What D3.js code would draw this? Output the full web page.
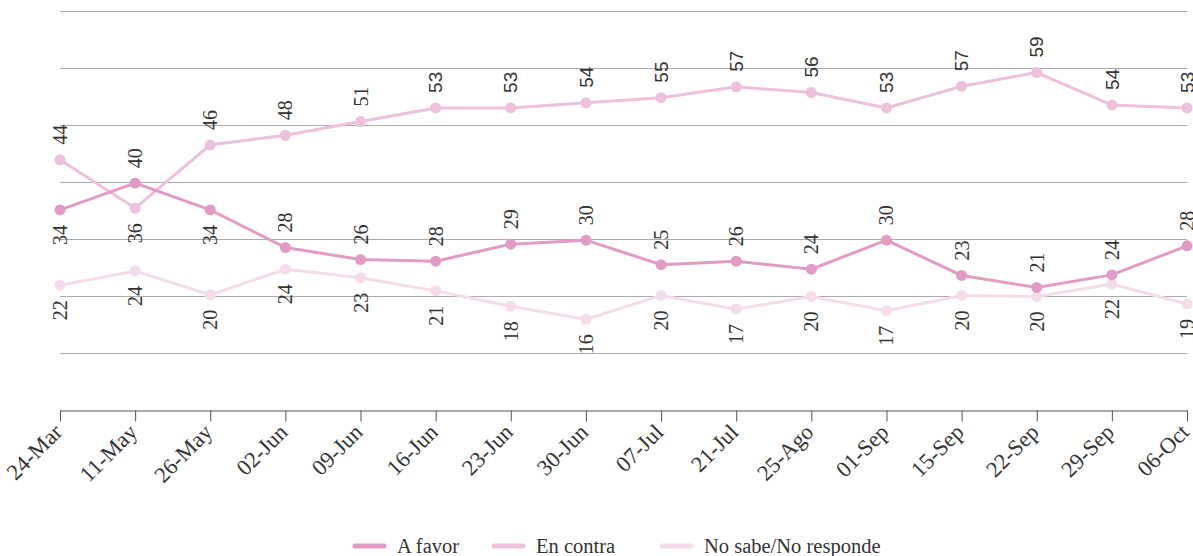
<!DOCTYPE html>
<html>
<head>
<meta charset="utf-8">
<script src="https://cdn.jsdelivr.net/npm/d3@7"></script>
<style>
  body { margin: 0; background: #fff; }
  svg { display: block; }
  text { font-family: "Liberation Serif", "DejaVu Serif", serif; fill: #333; }
</style>
</head>
<body>
<script>
// config
const config = {
  width: 1193,
  height: 556,
  left: 60,
  right: 1187,
  top: 11,
  bottom: 410,
  labelGap: 15, // distance between a point and its label
  dotRadius: 5.5,
  lineWidth: 3,
};

// data
const dates = ['24-Mar', '11-May', '26-May', '02-Jun', '09-Jun', '16-Jun', '23-Jun', '30-Jun',
  '07-Jul', '21-Jul', '25-Ago', '01-Sep', '15-Sep', '22-Sep', '29-Sep', '06-Oct'];

const aFavor = [35.1, 39.8, 35.1, 28.5, 26.4, 26.1, 29.1, 29.8, 25.5, 26.1, 24.7, 29.8, 23.6, 21.5, 23.7, 28.8];
const aFavorLabels = [34, 40, 34, 28, 26, 28, 29, 30, 25, 26, 24, 30, 23, 21, 24, 28];

const enContra = [43.9, 35.4, 46.5, 48.2, 50.6, 53.0, 53.0, 53.9, 54.8, 56.7, 55.7, 53.0, 56.8, 59.2, 53.5, 53.0];
const enContraLabels = [44, 36, 46, 48, 51, 53, 53, 54, 55, 57, 56, 53, 57, 59, 54, 53];

const noSabe = [21.9, 24.4, 20.2, 24.7, 23.2, 20.9, 18.2, 15.9, 20.1, 17.7, 19.9, 17.4, 20.1, 19.9, 22.1, 18.6];
const noSabeLabels = [22, 24, 20, 24, 23, 21, 18, 16, 20, 17, 20, 17, 20, 20, 22, 19];

const yTicks = [10, 20, 30, 40, 50, 60, 70];

// which labels sit below their point (1 = below)
const aFavorBelow = [1, 0, 1, 0, 0, 0, 0, 0, 0, 0, 0, 0, 0, 0, 0, 0];
const enContraBelow = [0, 1, 0, 0, 0, 0, 0, 0, 0, 0, 0, 0, 0, 0, 0, 0];
const noSabeBelow = dates.map(() => 1);

// series, drawn back to front
const series = [
  { name: 'No sabe/No responde', values: noSabe, labels: noSabeLabels, below: noSabeBelow, color: '#f5dcea', sansFrom: 99 },
  { name: 'En contra', values: enContra, labels: enContraLabels, below: enContraBelow, color: '#edc0dc', sansFrom: 5 },
  { name: 'A favor', values: aFavor, labels: aFavorLabels, below: aFavorBelow, color: '#e29bc5', sansFrom: 99 },
];
const legendOrder = ['A favor', 'En contra', 'No sabe/No responde'];

// setup
const svg = d3.select('body').append('svg')
  .attr('width', config.width)
  .attr('height', config.height);

const x = d3.scalePoint()
  .domain(dates)
  .range([config.left, config.right]);

const y = d3.scaleLinear()
  .domain([0, 70])
  .range([config.bottom, config.top]);

// gridlines
svg.append('g')
  .selectAll('line')
  .data(yTicks)
  .enter().append('line')
  .attr('x1', config.left)
  .attr('x2', config.right)
  .attr('y1', (d) => y(d) + 0.5)
  .attr('y2', (d) => y(d) + 0.5)
  .style('stroke', '#ababab')
  .style('stroke-width', 1);

// x axis
const xAxis = svg.append('g')
  .attr('transform', 'translate(0,' + (config.bottom + 0.5) + ')')
  .call(d3.axisBottom(x).tickSize(11).tickSizeOuter(0));

xAxis.select('.domain').style('stroke', '#555');
xAxis.selectAll('.tick line').style('stroke', '#555');
xAxis.selectAll('.tick text')
  .attr('x', 0)
  .attr('y', 0)
  .attr('dy', 0)
  .style('font-family', '"Liberation Serif", serif')
  .style('font-size', '22.5px')
  .style('fill', '#333')
  .attr('text-anchor', 'end')
  .attr('transform', 'translate(3,23) rotate(-45)');

// lines
const line = d3.line()
  .x((d, i) => x(dates[i]))
  .y((d) => y(d));

const layer = svg.append('g');

series.forEach((s) => {
  const g = layer.append('g');

  g.append('path')
    .datum(s.values)
    .attr('d', line)
    .style('fill', 'none')
    .style('stroke', s.color)
    .style('stroke-width', config.lineWidth);

  g.selectAll('circle')
    .data(s.values)
    .enter().append('circle')
    .attr('cx', (d, i) => x(dates[i]))
    .attr('cy', (d) => y(d))
    .attr('r', config.dotRadius)
    .style('fill', s.color);
});

// labels on top
series.forEach((s) => {
  layer.append('g')
    .selectAll('text')
    .data(s.values)
    .enter().append('text')
    .attr('transform', (d, i) => {
      const px = x(dates[i]);
      const py = s.below[i] ? y(d) + config.labelGap : y(d) - config.labelGap;
      return 'translate(' + px + ',' + py + ') rotate(-90)';
    })
    .attr('text-anchor', (d, i) => s.below[i] ? 'end' : 'start')
    .attr('dy', '0.35em')
    .style('font-family', (d, i) => i >= s.sansFrom ? '"Liberation Sans", Arial, sans-serif' : '"Liberation Serif", serif')
    .style('font-size', (d, i) => i >= s.sansFrom ? '19px' : '20px')
    .style('fill', '#333')
    .text((d, i) => s.labels[i]);
});

// legend
const legendX = [353, 492, 660];
const legend = svg.append('g')
  .attr('transform', 'translate(0,546)');

legendOrder.forEach((name, i) => {
  const s = series.find((d) => d.name === name);
  const item = legend.append('g').attr('transform', 'translate(' + legendX[i] + ',0)');
  item.append('line')
    .attr('x1', 2).attr('x2', 31)
    .attr('y1', 0).attr('y2', 0)
    .style('stroke', s.color)
    .style('stroke-width', 5)
    .style('stroke-linecap', 'round');
  item.append('text')
    .attr('x', 44)
    .attr('dy', '0.35em')
    .style('font-size', '20.5px')
    .style('fill', '#333')
    .text(name);
});
</script>
</body>
</html>
